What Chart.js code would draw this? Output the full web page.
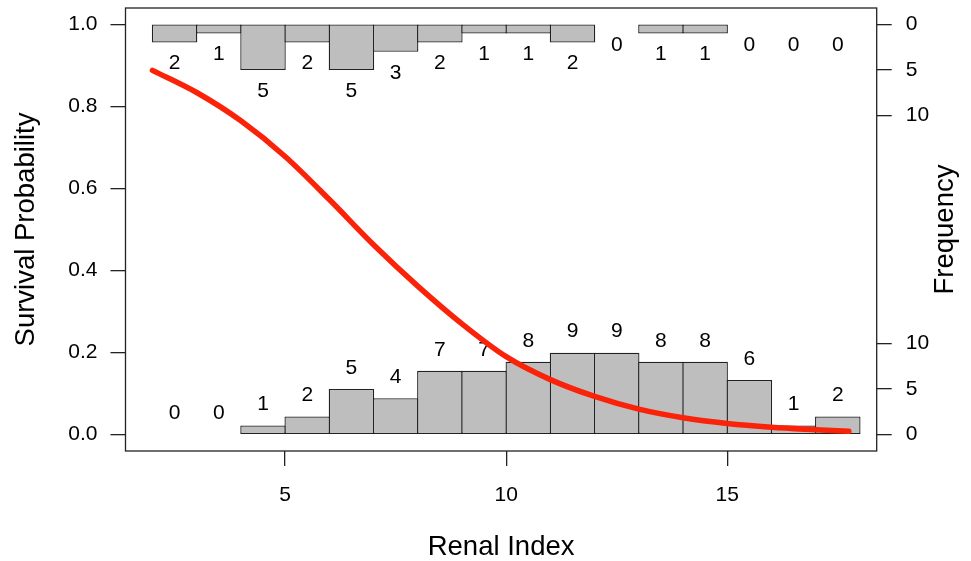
<!DOCTYPE html>
<html>
<head>
<meta charset="utf-8">
<script src="https://cdn.jsdelivr.net/npm/chart.js@4.4.1/dist/chart.umd.min.js"></script>
<style>
  html, body { margin: 0; padding: 0; background: #fff; }
  #wrap { width: 971px; height: 561px; }
</style>
</head>
<body>
<div id="wrap"><canvas id="myChart" width="971" height="561"></canvas></div>
<script>
// histogram bins (renal index), width 1, mid points
var binMids = [2.5, 3.5, 4.5, 5.5, 6.5, 7.5, 8.5, 9.5, 10.5, 11.5, 12.5, 13.5, 14.5, 15.5, 16.5, 17.5];
// counts hanging from the top (survived) and standing on the bottom (died)
var survivedCounts = [2, 1, 5, 2, 5, 3, 2, 1, 1, 2, 0, 1, 1, 0, 0, 0];
var diedCounts = [0, 0, 1, 2, 5, 4, 7, 7, 8, 9, 9, 8, 8, 6, 1, 2];
// fitted survival curve
var curveX = [2, 3, 4, 5, 6, 7, 8, 9, 10, 11, 12, 13, 14, 15, 16, 17, 17.75];
var curveP = [0.888, 0.834, 0.765, 0.678, 0.573, 0.463, 0.362, 0.27, 0.19, 0.134, 0.093, 0.062, 0.041, 0.027, 0.018, 0.012, 0.008];
// tick labels
var xTicks = [5, 10, 15];
var probTicks = [0, 0.2, 0.4, 0.6, 0.8, 1.0];
var freqTicks = [0, 5, 10];

var countScale = 0.0222; // probability units per count on the plot
var FONT = "'Liberation Sans', Arial, Helvetica, sans-serif";

// right axis: frequency ticks at bottom and top
var freqTickValues = [];
var freqTickLabels = [];
freqTicks.forEach(function (f) { freqTickValues.push(f * countScale); freqTickLabels.push(String(f)); });
freqTicks.forEach(function (f) { freqTickValues.push(1 - f * countScale); freqTickLabels.push(String(f)); });

var topBars = binMids.map(function (m, i) {
    return survivedCounts[i] > 0 ? { x: m, y: [1 - survivedCounts[i] * countScale, 1] } : { x: m, y: null };
});
var bottomBars = binMids.map(function (m, i) {
    return diedCounts[i] > 0 ? { x: m, y: [0, diedCounts[i] * countScale] } : { x: m, y: null };
});
var curve = curveX.map(function (x, i) { return { x: x, y: curveP[i] }; });

var barLabels = {
    id: 'barLabels',
    afterDatasetDraw: function (chart, args) {
        if (args.index !== 1) return; // after the bottom bars, before the curve
        var ctx = chart.ctx;
        var xs = chart.scales.x, ys = chart.scales.y;
        ctx.save();
        ctx.font = '21px ' + FONT;
        ctx.fillStyle = '#000';
        ctx.textAlign = 'center';
        ctx.textBaseline = 'middle';
        binMids.forEach(function (m, i) {
            var px = xs.getPixelForValue(m);
            ctx.fillText(String(diedCounts[i]), px, ys.getPixelForValue(diedCounts[i] * countScale) - 21);
            ctx.fillText(String(survivedCounts[i]), px, ys.getPixelForValue(1 - survivedCounts[i] * countScale) + 21);
        });
        ctx.restore();
    }
};

var frame = {
    id: 'frame',
    afterDraw: function (chart) {
        var a = chart.chartArea, ctx = chart.ctx;
        ctx.save();
        ctx.strokeStyle = '#222';
        ctx.lineWidth = 1.3;
        ctx.strokeRect(a.left, a.top, a.right - a.left, a.bottom - a.top);
        // right axis title, reading bottom to top
        ctx.translate(945, (a.top + a.bottom) / 2);
        ctx.rotate(-Math.PI / 2);
        ctx.font = '27.5px ' + FONT;
        ctx.fillStyle = '#000';
        ctx.textAlign = 'center';
        ctx.textBaseline = 'middle';
        ctx.fillText('Frequency', 0, 0);
        ctx.restore();
    }
};

var tickGrid = { display: true, offset: false, drawOnChartArea: false, drawTicks: true, tickLength: 15, color: '#222', lineWidth: 1.3 };

var barStyle = {
    type: 'bar',
    backgroundColor: '#bebebe',
    borderColor: '#222',
    borderWidth: 1.3,
    borderSkipped: false,
    grouped: false,
    barPercentage: 1.029, // neighbours overlap by one border width
    categoryPercentage: 1,
    yAxisID: 'y'
};

function noPadding(s) {
    s.paddingTop = 0; s.paddingBottom = 0; s.paddingLeft = 0; s.paddingRight = 0;
}

var ctx = document.getElementById('myChart').getContext('2d');
var chart = new Chart(ctx, {
    data: {
        datasets: [
            Object.assign({}, barStyle, { data: topBars, order: 2 }),
            Object.assign({}, barStyle, { data: bottomBars, order: 1 }),
            {
                type: 'line',
                data: curve,
                borderColor: 'rgb(250,35,10)',
                borderWidth: 5.5,
                borderCapStyle: 'round',
                pointRadius: 0,
                cubicInterpolationMode: 'monotone',
                fill: false,
                yAxisID: 'y',
                order: 0
            }
        ]
    },
    options: {
        responsive: false,
        animation: false,
        layout: { padding: { top: 8, left: 0, right: 0, bottom: 0 } },
        plugins: { legend: { display: false }, tooltip: { enabled: false } },
        scales: {
            x: {
                type: 'linear',
                offset: false,
                min: 1.39,
                max: 18.38,
                afterBuildTicks: function (s) { s.ticks = xTicks.map(function (v) { return { value: v }; }); },
                afterFit: function (s) { s.height = 110; noPadding(s); },
                grid: tickGrid,
                border: { display: false },
                ticks: { autoSkip: false, maxRotation: 0, padding: 17, color: '#000', font: { family: FONT, size: 21 } },
                title: { display: true, text: 'Renal Index', color: '#000', font: { family: FONT, size: 27.5, lineHeight: 1 }, padding: { top: 0, bottom: 0 } }
            },
            y: {
                position: 'left',
                min: -0.04,
                max: 1.04,
                afterBuildTicks: function (s) { s.ticks = probTicks.map(function (v) { return { value: v }; }); },
                afterFit: function (s) { s.width = 125.5; noPadding(s); },
                grid: tickGrid,
                border: { display: false },
                ticks: { autoSkip: false, padding: 13, color: '#000', font: { family: FONT, size: 21 },
                    callback: function (v) { return v.toFixed(1); } },
                title: { display: true, text: 'Survival Probability', color: '#000', font: { family: FONT, size: 27.5, lineHeight: 1 }, padding: { top: 13, bottom: 0 } }
            },
            y2: {
                position: 'right',
                min: -0.04,
                max: 1.04,
                afterBuildTicks: function (s) { s.ticks = freqTickValues.map(function (v) { return { value: v }; }); },
                afterFit: function (s) { s.width = 94.3; noPadding(s); },
                grid: tickGrid,
                border: { display: false },
                ticks: { autoSkip: false, padding: 14, color: '#000', font: { family: FONT, size: 21 },
                    callback: function (v, i) { return freqTickLabels[i]; } }
            }
        }
    },
    plugins: [barLabels, frame]
});
</script>
</body>
</html>
